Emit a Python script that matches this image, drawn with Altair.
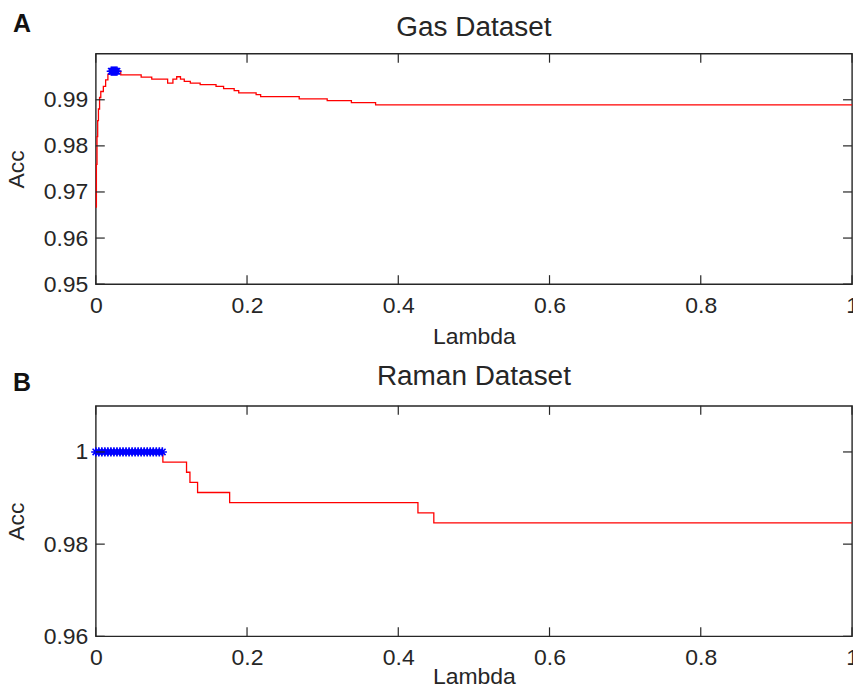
import altair as alt
import pandas as pd

# ---------------- data ----------------
titles = ["Gas Dataset", "Raman Dataset"]
panel_letters = ["A", "B"]

gas_lambda = [0.000, 0.0008, 0.0016, 0.0025, 0.0035, 0.0050, 0.0066, 0.0100, 0.0130,
              0.0160, 0.0185, 0.0330, 0.0600, 0.0740, 0.0950, 0.1020, 0.1070, 0.1120,
              0.1170, 0.1250, 0.1380, 0.1590, 0.1690, 0.1830, 0.1890, 0.2120, 0.2180,
              0.2690, 0.3060, 0.3380, 0.3700, 1.0000]
gas_acc = [0.9667, 0.9760, 0.9820, 0.9855, 0.9880, 0.9905, 0.9918, 0.9929, 0.9943,
           0.9955, 0.9962, 0.9954, 0.9949, 0.9945, 0.9936, 0.9945, 0.9950, 0.9945,
           0.9940, 0.9936, 0.9933, 0.9929, 0.9924, 0.9920, 0.9915, 0.9911, 0.9907,
           0.9902, 0.9898, 0.9894, 0.9889, 0.9889]
gas_best_lambda = [0.0205, 0.0220, 0.0235, 0.0250, 0.0265, 0.0280]
gas_best_acc = [0.9962, 0.9962, 0.9962, 0.9962, 0.9962, 0.9962]

raman_lambda = [0.0, 0.0887, 0.1200, 0.1245, 0.1346, 0.1770, 0.4260, 0.4470, 1.0]
raman_acc = [1.0, 0.9978, 0.9956, 0.9934, 0.9912, 0.9890, 0.9868, 0.9846, 0.9846]
raman_best_lambda = [0.000, 0.004, 0.008, 0.012, 0.016, 0.020, 0.024, 0.028, 0.032,
                     0.036, 0.040, 0.044, 0.048, 0.052, 0.056, 0.060, 0.064, 0.068,
                     0.072, 0.076, 0.080, 0.084, 0.088]
raman_best_acc = [1.0] * len(raman_best_lambda)

x_ticks = [0, 0.2, 0.4, 0.6, 0.8, 1.0]
gas_y_ticks = [0.95, 0.96, 0.97, 0.98, 0.99]
gas_y_domain = [0.95, 1.0]
raman_y_ticks = [0.96, 0.98, 1.0]
raman_y_domain = [0.96, 1.01]

# ---------------- style ----------------
W, H = 758, 231
TICK = 9
FONT = "Liberation Sans"
INK = "#262626"
ASTERISK = "M-1,0L1,0M0,-1L0,1M-0.7,-0.7L0.7,0.7M-0.7,0.7L0.7,-0.7"


def panel(title, letter, lam, acc, best_lam, best_acc, y_ticks, y_domain,
          title_y, letter_y, xtitle_pad):
    xs = alt.Scale(domain=[0, 1], nice=False, zero=False)
    ys = alt.Scale(domain=y_domain, nice=False, zero=False)
    xax = alt.Axis(values=x_ticks, format="~g", ticks=False, domain=False, grid=False,
                   labelFlush=False, labelPadding=10, titlePadding=xtitle_pad,
                   title="Lambda")
    yax = alt.Axis(values=y_ticks, format=".2~f", ticks=False, domain=False, grid=False,
                   labelFlush=False, labelPadding=8, titlePadding=15, title="Acc")

    line = alt.Chart(pd.DataFrame({"lam": lam, "acc": acc})).mark_line(
        color="#ff0000", strokeWidth=1.3, interpolate="step-after"
    ).encode(x=alt.X("lam:Q", scale=xs, axis=xax), y=alt.Y("acc:Q", scale=ys, axis=yax))

    pts = alt.Chart(pd.DataFrame({"lam": best_lam, "acc": best_acc})).mark_point(
        shape=ASTERISK, filled=False, color="#0000ff", size=85, strokeWidth=1.6, opacity=1
    ).encode(x=alt.X("lam:Q", scale=xs), y=alt.Y("acc:Q", scale=ys))

    ydf = pd.DataFrame({"v": y_ticks})
    xdf = pd.DataFrame({"v": x_ticks})
    rk = dict(color=INK, strokeWidth=1.2)
    lt = alt.Chart(ydf).mark_rule(**rk).encode(
        y=alt.Y("v:Q", scale=ys), x=alt.value(0), x2=alt.value(TICK))
    rt = alt.Chart(ydf).mark_rule(**rk).encode(
        y=alt.Y("v:Q", scale=ys), x=alt.value(W - TICK), x2=alt.value(W))
    tt = alt.Chart(xdf).mark_rule(**rk).encode(
        x=alt.X("v:Q", scale=xs), y=alt.value(0), y2=alt.value(TICK))
    bt = alt.Chart(xdf).mark_rule(**rk).encode(
        x=alt.X("v:Q", scale=xs), y=alt.value(H - TICK), y2=alt.value(H))

    lab = alt.Chart(pd.DataFrame({"t": [letter]})).mark_text(
        font=FONT, fontSize=25, fontWeight="bold", color="#111111",
        align="left", baseline="alphabetic"
    ).encode(text="t:N", x=alt.value(-83), y=alt.value(letter_y))

    ttl = alt.Chart(pd.DataFrame({"t": [title]})).mark_text(
        font=FONT, fontSize=28, color=INK, align="center", baseline="alphabetic"
    ).encode(text="t:N", x=alt.value(W / 2), y=alt.value(title_y))

    return alt.layer(line, pts, lt, rt, tt, bt, lab, ttl).properties(width=W, height=H)


top = panel(titles[0], panel_letters[0], gas_lambda, gas_acc, gas_best_lambda,
            gas_best_acc, gas_y_ticks, gas_y_domain, -18, -22, 8)
bottom = panel(titles[1], panel_letters[1], raman_lambda, raman_acc, raman_best_lambda,
               raman_best_acc, raman_y_ticks, raman_y_domain, -21, -15, -4)

chart = alt.vconcat(top, bottom, spacing=13).properties(
    padding={"left": -4, "top": 2, "right": -7, "bottom": -4}, background="white"
).configure_view(stroke=INK, strokeWidth=1.4).configure_axis(
    labelFont=FONT, titleFont=FONT, labelFontSize=23, titleFontSize=23,
    labelColor=INK, titleColor=INK, titleFontWeight="normal"
)

chart.save("out.html", embed_options={"renderer": "svg", "actions": False})
